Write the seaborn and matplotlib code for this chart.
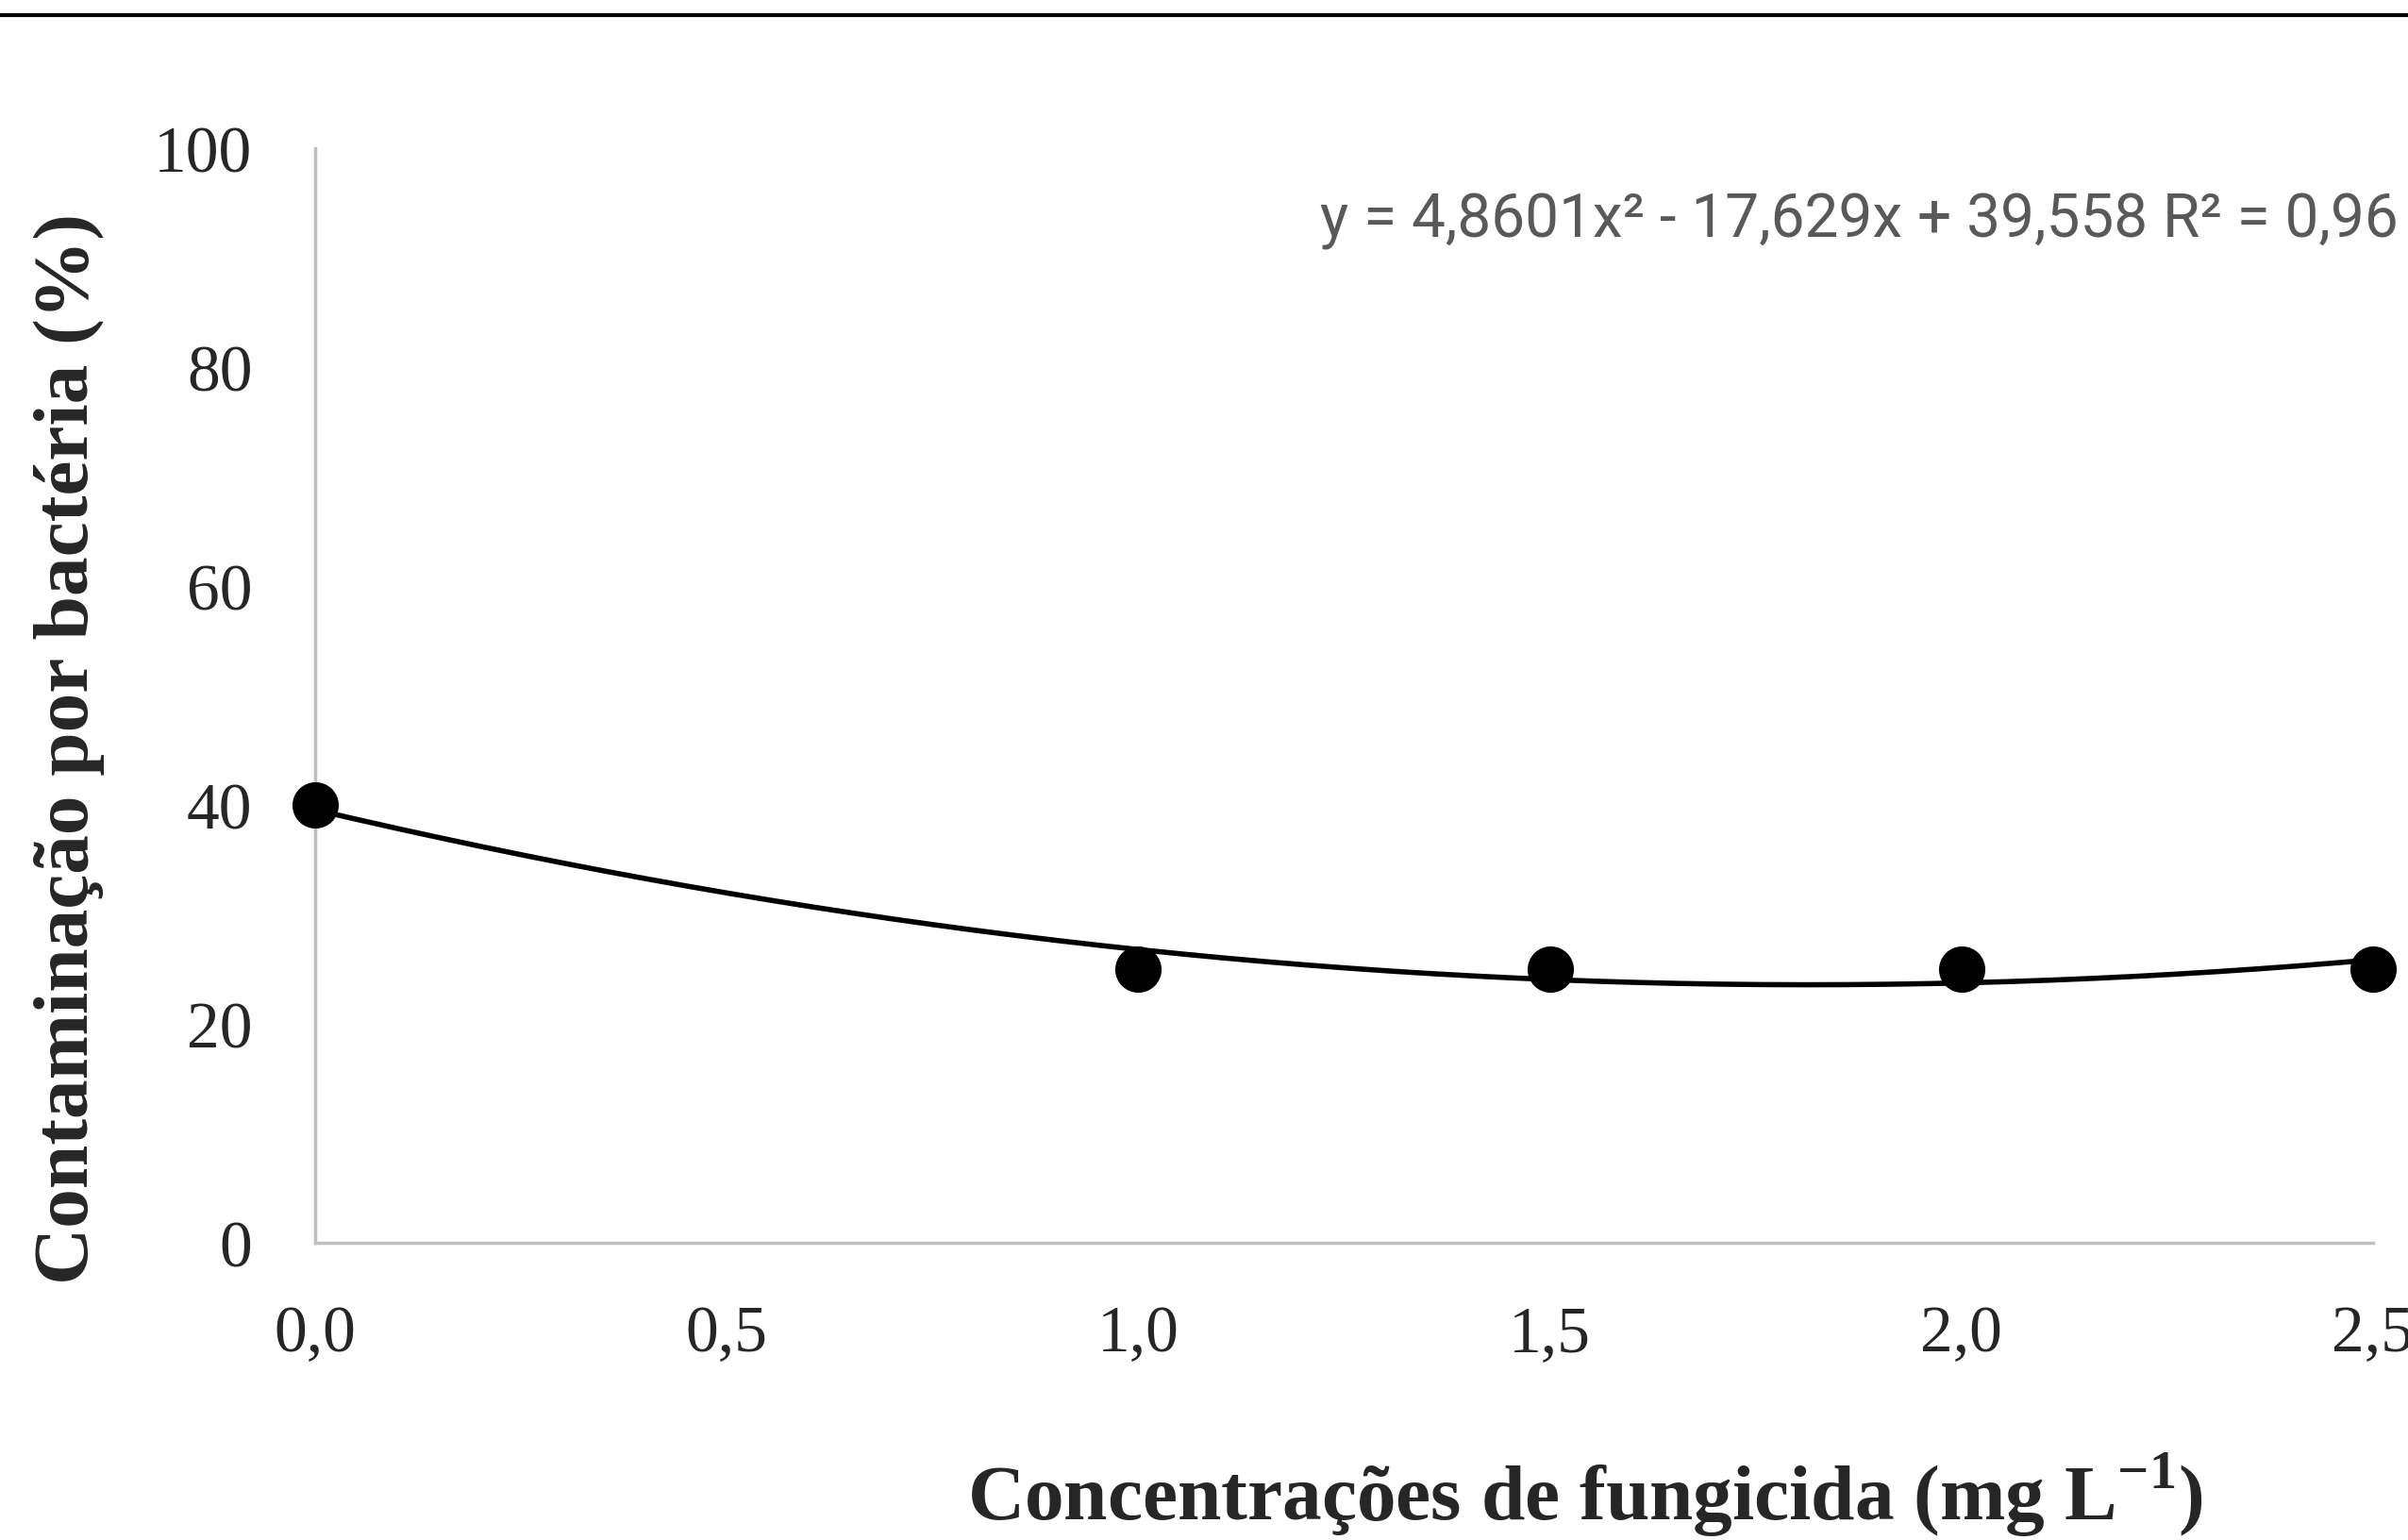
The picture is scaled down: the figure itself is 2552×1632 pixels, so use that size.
import numpy as np
import pandas as pd
import matplotlib
matplotlib.use('Agg')
import matplotlib.pyplot as plt
from matplotlib.lines import Line2D
import seaborn as sns

# data
conc = [0.0, 1.0, 1.5, 2.0, 2.5]
contam = [40, 25, 25, 25, 25]
# trendline coefficients printed on the chart
coef_a, coef_b, coef_c = 4.8601, -17.629, 39.558
r2_text = '0,96'
x_ticks = [0.0, 0.5, 1.0, 1.5, 2.0, 2.5]
x_ticklabels = ['0,0', '0,5', '1,0', '1,5', '2,0', '2,5']
y_ticks = [0, 20, 40, 60, 80, 100]

sns.set_style('white')
plt.rcParams['font.family'] = ['Liberation Serif', 'DejaVu Serif']

fig = plt.figure(figsize=(25.52, 16.33), dpi=100)
ax = fig.add_axes([0.1309, 0.1929, 0.8546, 0.7103])

points = pd.DataFrame({'conc': conc, 'contam': contam})
xs = np.linspace(min(conc), max(conc), 200)
trend = pd.DataFrame({'conc': xs, 'contam': coef_a * xs ** 2 + coef_b * xs + coef_c})

sns.lineplot(data=trend, x='conc', y='contam', ax=ax, color='black', linewidth=4)
sns.scatterplot(data=points, x='conc', y='contam', ax=ax, color='black', s=1250,
                edgecolor='black', linewidth=0, zorder=5, clip_on=False)

ax.set_xlim(0, 2.5)
ax.set_ylim(0, 100)
ax.set_xticks(x_ticks)
ax.set_xticklabels(x_ticklabels)
ax.set_yticks(y_ticks)
ax.tick_params(axis='both', length=0, labelsize=50)
ax.tick_params(axis='x', pad=47)
ax.tick_params(axis='y', pad=48)

for side in ['top', 'right']:
    ax.spines[side].set_visible(False)
for side in ['left', 'bottom']:
    ax.spines[side].set_color('#bfbfbf')
    ax.spines[side].set_linewidth(2.5)

ax.set_ylabel('Contaminação por bactéria (%)', fontsize=60, fontweight='bold')
ax.yaxis.set_label_coords(-0.1197, 0.4526)
ax.yaxis.label.set_va('center')
ax.set_xlabel('Concentrações de fungicida (mg L$^{\\mathregular{-1}}$)', fontsize=60, fontweight='bold')
ax.xaxis.set_label_coords(0.617, -0.230)
ax.xaxis.label.set_va('center')

eq = 'y = 4,8601x² - 17,629x + 39,558 R² = ' + r2_text
fig.text(2542 / 2552, 1 - 234 / 1633, eq, ha='right', va='center', fontsize=46,
         color='#595959', family=['Liberation Sans Narrow', 'Roboto', 'DejaVu Sans'])

# black rule across the top of the page
fig.add_artist(Line2D([0, 1], [1 - 16.5 / 1633] * 2, color='black', linewidth=3,
                      transform=fig.transFigure))

fig.savefig('out.png', dpi=100)
